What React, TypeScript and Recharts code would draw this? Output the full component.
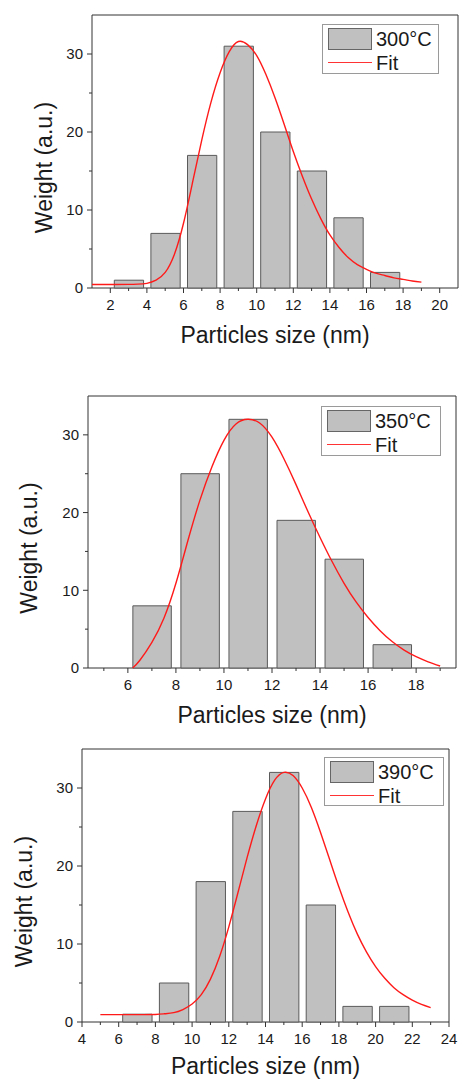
import React from "react";
import { ComposedChart, Bar, Line, XAxis, YAxis, ReferenceArea, Legend } from "recharts";

const FONT = '"Liberation Sans", Arial, Helvetica, sans-serif';
const INK = "#1a1a1a";
const AXIS = "#333";
const CHART_W = 459;
const BIN_WIDTH = 1.6;

const Y_MAJOR = [0, 10, 20, 30];
const Y_MINOR = [5, 15, 25];

// 300 °C
const BINS_300 = [3, 5, 7, 9, 11, 13, 15, 17];
const WEIGHT_300 = [1, 7, 17, 31, 20, 15, 9, 2];
const FIT_X_300 = [1, 2, 3, 3.5, 4, 4.5, 5, 5.5, 6, 6.5, 7, 7.5, 8, 8.5, 9, 9.5, 10, 10.5, 11, 11.5, 12, 12.5, 13, 13.5, 14, 14.5, 15, 15.5, 16, 16.5, 17, 17.5, 18, 18.5, 19];
const FIT_Y_300 = [0.45, 0.45, 0.47, 0.5, 0.6, 1.0, 2.0, 4.3, 8.3, 13.6, 19.0, 23.8, 27.6, 30.3, 31.6, 31.2, 29.8, 27.4, 24.4, 21.0, 17.5, 14.3, 11.4, 8.9, 6.8, 5.2, 3.9, 3.0, 2.4, 1.9, 1.6, 1.3, 1.1, 0.9, 0.75];
const X_MAJOR_300 = [2, 4, 6, 8, 10, 12, 14, 16, 18, 20];
const X_MINOR_300 = [3, 5, 7, 9, 11, 13, 15, 17, 19];

// 350 °C
const BINS_350 = [7, 9, 11, 13, 15, 17];
const WEIGHT_350 = [8, 25, 32, 19, 14, 3];
const FIT_X_350 = [6.2, 6.5, 7, 7.5, 8, 8.5, 9, 9.5, 10, 10.5, 11, 11.5, 12, 12.5, 13, 13.5, 14, 14.5, 15, 15.5, 16, 16.5, 17, 17.5, 18, 18.5, 19];
const FIT_Y_350 = [0, 1.0, 3.3, 6.4, 10.9, 16.4, 21.6, 25.9, 29.3, 31.4, 32.0, 31.5, 29.7, 26.9, 23.6, 20.1, 16.8, 13.7, 10.9, 8.5, 6.5, 4.8, 3.4, 2.3, 1.45, 0.8, 0.26];
const X_MAJOR_350 = [6, 8, 10, 12, 14, 16, 18];
const X_MINOR_350 = [5, 7, 9, 11, 13, 15, 17, 19];

// 390 °C
const BINS_390 = [7, 9, 11, 13, 15, 17, 19, 21];
const WEIGHT_390 = [1, 5, 18, 27, 32, 15, 2, 2];
const FIT_X_390 = [5, 6, 7, 8, 8.5, 9, 9.5, 10, 10.5, 11, 11.5, 12, 12.5, 13, 13.5, 14, 14.5, 15, 15.5, 16, 16.5, 17, 17.5, 18, 18.5, 19, 19.5, 20, 20.5, 21, 21.5, 22, 22.5, 23];
const FIT_Y_390 = [0.95, 0.95, 0.95, 0.97, 1.05, 1.2, 1.6, 2.3, 3.5, 5.5, 8.4, 12.2, 16.6, 21.1, 25.2, 28.6, 31.0, 32.0, 31.6, 30.0, 27.5, 24.3, 20.8, 17.3, 14.1, 11.3, 9.0, 7.1, 5.6, 4.4, 3.5, 2.8, 2.25, 1.85];
const X_MAJOR_390 = [4, 6, 8, 10, 12, 14, 16, 18, 20, 22, 24];
const X_MINOR_390 = [5, 7, 9, 11, 13, 15, 17, 19, 21, 23];

const XTick = ({ x, y, payload, major }: any) => (
    <g>
        <line x1={x} x2={x} y1={y} y2={y + (major ? 5 : 3)} stroke={AXIS} strokeWidth={1} />
        {major && (
            <text x={x} y={y + 22} textAnchor="middle" fontSize={15} fill={INK} fontFamily={FONT}>
                {payload.value}
            </text>
        )}
    </g>
);

const YTick = ({ x, y, payload, major }: any) => (
    <g>
        <line x1={x - (major ? 5 : 3)} x2={x} y1={y} y2={y} stroke={AXIS} strokeWidth={1} />
        {major && (
            <text x={x - 9} y={y} dy="0.36em" textAnchor="end" fontSize={15} fill={INK} fontFamily={FONT}>
                {payload.value}
            </text>
        )}
    </g>
);

const LegendBox = ({ payload, fallback, w, h }: any) => {
    const items = payload || [];
    const barItem = items.find((it: any) => it.type === "rect");
    const lineItem = items.find((it: any) => it.type === "line");
    return (
        <div style={{ position: "relative", width: w, height: h, boxSizing: "border-box", border: "1px solid #9a9a9a", background: "#fff", fontFamily: FONT, fontSize: 20, color: INK }}>
            <div style={{ position: "absolute", left: 5, top: 3, width: 44, height: 22, boxSizing: "border-box", background: "#c0c0c0", border: "1px solid #666" }} />
            <span style={{ position: "absolute", left: 53, top: 3, lineHeight: "22px", whiteSpace: "nowrap" }}>{barItem ? barItem.value : fallback}</span>
            <div style={{ position: "absolute", left: 5, top: 36.5, width: 44, height: 0, borderTop: "1.5px solid #ff3333" }} />
            <span style={{ position: "absolute", left: 53, top: 27, lineHeight: "22px" }}>{lineItem ? lineItem.value : "Fit"}</span>
        </div>
    );
};

function Panel(p: any) {
    const plotW = CHART_W - p.yAxisWidth - p.margin.right;
    const plotH = p.height - p.margin.top - p.xAxisHeight;
    const barSize = (plotW / (p.xDomain[1] - p.xDomain[0])) * BIN_WIDTH;
    const bars = p.bins.map((x: number, i: number) => ({ size: x, weight: p.weights[i] }));
    const fit = p.fitX.map((x: number, i: number) => ({ size: x, fit: p.fitY[i] }));
    const xMajor = new Set(p.xMajor);
    const yMajor = new Set(Y_MAJOR);
    const xTicks = [...p.xMajor, ...p.xMinor].sort((a, b) => a - b);
    const yTicks = [...Y_MAJOR, ...Y_MINOR].sort((a, b) => a - b);
    const plotBottom = p.margin.top + plotH;

    return (
        <div style={{ position: "absolute", left: 0, top: p.top }}>
            <ComposedChart width={CHART_W} height={p.height} data={bars} margin={p.margin}>
                <XAxis
                    type="number"
                    dataKey="size"
                    domain={p.xDomain}
                    ticks={xTicks}
                    interval={0}
                    allowDataOverflow
                    height={p.xAxisHeight}
                    axisLine={false}
                    tickLine={false}
                    tickSize={0}
                    tickMargin={0}
                    tick={(t: any) => <XTick {...t} major={xMajor.has(t.payload.value)} />}
                    label={() => (
                        <text x={p.yAxisWidth + plotW / 2} y={plotBottom + p.xTitleGap} textAnchor="middle" fontSize={23} fill={INK} fontFamily={FONT}>
                            Particles size (nm)
                        </text>
                    )}
                />
                <XAxis xAxisId="fit" type="number" dataKey="size" domain={p.xDomain} allowDataOverflow hide />
                <YAxis
                    type="number"
                    domain={[0, 35]}
                    ticks={yTicks}
                    interval={0}
                    width={p.yAxisWidth}
                    axisLine={false}
                    tickLine={false}
                    tickSize={0}
                    tickMargin={0}
                    tick={(t: any) => <YTick {...t} major={yMajor.has(t.payload.value)} />}
                    label={() => {
                        const cy = p.margin.top + plotH / 2 + 16;
                        return (
                            <text x={p.yTitleX} y={cy} transform={`rotate(-90 ${p.yTitleX} ${cy})`} textAnchor="middle" fontSize={23} fill={INK} fontFamily={FONT}>
                                Weight (a.u.)
                            </text>
                        );
                    }}
                />
                <Bar dataKey="weight" name={p.label} legendType="rect" fill="#c0c0c0" stroke="#5a5a5a" strokeWidth={1} barSize={barSize} isAnimationActive={false} />
                <Line xAxisId="fit" data={fit} dataKey="fit" name="Fit" legendType="line" type="natural" stroke="#ff1a1a" strokeWidth={1.4} dot={false} activeDot={false} isAnimationActive={false} />
                <ReferenceArea x1={p.xDomain[0]} x2={p.xDomain[1]} y1={0} y2={35} fill="none" stroke={AXIS} strokeWidth={1} ifOverflow="visible" />
                <Legend
                    layout="vertical"
                    align="center"
                    verticalAlign="middle"
                    wrapperStyle={{ left: p.legend.left, top: p.legend.top, width: p.legend.w, height: p.legend.h }}
                    content={(lp: any) => <LegendBox payload={lp.payload} fallback={p.label} w={p.legend.w} h={p.legend.h} />}
                />
            </ComposedChart>
        </div>
    );
}

export default function App() {
    return (
        <div style={{ position: "absolute", left: 0, top: 0, width: CHART_W, height: 1079, overflow: "hidden", background: "#fff", fontFamily: FONT }}>
            <Panel
                top={0}
                height={360}
                margin={{ top: 15, right: 1, bottom: 0, left: 0 }}
                yAxisWidth={92}
                xAxisHeight={72}
                xDomain={[1, 21]}
                xMajor={X_MAJOR_300}
                xMinor={X_MINOR_300}
                bins={BINS_300}
                weights={WEIGHT_300}
                fitX={FIT_X_300}
                fitY={FIT_Y_300}
                label="300°C"
                yTitleX={52}
                xTitleGap={55}
                legend={{ left: 322, top: 24, w: 117, h: 50 }}
            />
            <Panel
                top={380}
                height={360}
                margin={{ top: 16, right: 3, bottom: 0, left: 0 }}
                yAxisWidth={88}
                xAxisHeight={72}
                xDomain={[4.34, 19.66]}
                xMajor={X_MAJOR_350}
                xMinor={X_MINOR_350}
                bins={BINS_350}
                weights={WEIGHT_350}
                fitX={FIT_X_350}
                fitY={FIT_Y_350}
                label="350°C"
                yTitleX={37}
                xTitleGap={55}
                legend={{ left: 321, top: 26, w: 120, h: 50 }}
            />
            <Panel
                top={740}
                height={339}
                margin={{ top: 9, right: 10, bottom: 0, left: 0 }}
                yAxisWidth={82}
                xAxisHeight={57}
                xDomain={[4, 24]}
                xMajor={X_MAJOR_390}
                xMinor={X_MINOR_390}
                bins={BINS_390}
                weights={WEIGHT_390}
                fitX={FIT_X_390}
                fitY={FIT_Y_390}
                label="390°C"
                yTitleX={32}
                xTitleGap={52}
                legend={{ left: 324, top: 17, w: 120, h: 49 }}
            />
        </div>
    );
}
